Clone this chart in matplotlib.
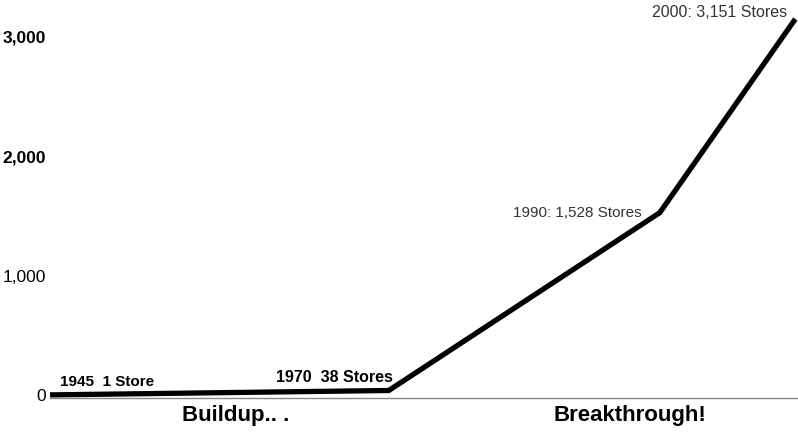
import matplotlib.pyplot as plt

plt.rcParams['font.family'] = ['Liberation Sans', 'DejaVu Sans']

# store count milestones
years = [1945, 1970, 1990, 2000]
stores = [1, 38, 1528, 3151]
point_labels = ['1945  1 Store', '1970  38 Stores', '1990: 1,528 Stores', '2000: 3,151 Stores']
y_ticks = [0, 1000, 2000, 3000]
y_tick_labels = ['0', '1,000', '2,000', '3,000']
phases = ['Buildup.. .', 'Breakthrough!']

fig = plt.figure(figsize=(7.98, 4.32), dpi=100)
ax = fig.add_axes([0.0627, 0.0787, 0.9373, 0.9213])

ax.plot(years, stores, color='black', linewidth=3.8, solid_capstyle='butt',
        solid_joinstyle='miter')
ax.set_xlim(1945, 2000.2)
ax.set_ylim(-25, 3310)

for side in ['top', 'right', 'left']:
    ax.spines[side].set_visible(False)
ax.spines['bottom'].set_color('#888888')
ax.spines['bottom'].set_linewidth(1.0)
ax.set_xticks([])
ax.set_yticks(y_ticks)
ax.set_yticklabels(y_tick_labels, fontsize=12.5)
ax.tick_params(axis='y', length=0, pad=3)
for lbl, w in zip(ax.get_yticklabels(), ['normal', 'normal', 'bold', 'bold']):
    lbl.set_fontweight(w)

# point annotations
ax.annotate(point_labels[0], (years[0], stores[0]), xytext=(7, 4),
            textcoords='offset points', fontsize=11, fontweight='bold',
            ha='left', va='bottom')
ax.annotate(point_labels[1], (years[1], stores[1]), xytext=(3, 4),
            textcoords='offset points', fontsize=11.5, fontweight='bold',
            ha='right', va='bottom')
ax.annotate(point_labels[2], (years[2], stores[2]), xytext=(-13, -5),
            textcoords='offset points', fontsize=11, color='#333333',
            ha='right', va='bottom')
ax.annotate(point_labels[3], (years[3], stores[3]), xytext=(-6, -1),
            textcoords='offset points', fontsize=11.5, color='#333333',
            ha='right', va='bottom')

# phase captions under the axis
fig.text(235.5 / 798, 1 - 415 / 432, phases[0], fontsize=16, fontweight='bold',
         ha='center', va='center')
fig.text(629.5 / 798, 1 - 415 / 432, phases[1], fontsize=16, fontweight='bold',
         ha='center', va='center')

fig.savefig('out.png', dpi=100, facecolor='white')
